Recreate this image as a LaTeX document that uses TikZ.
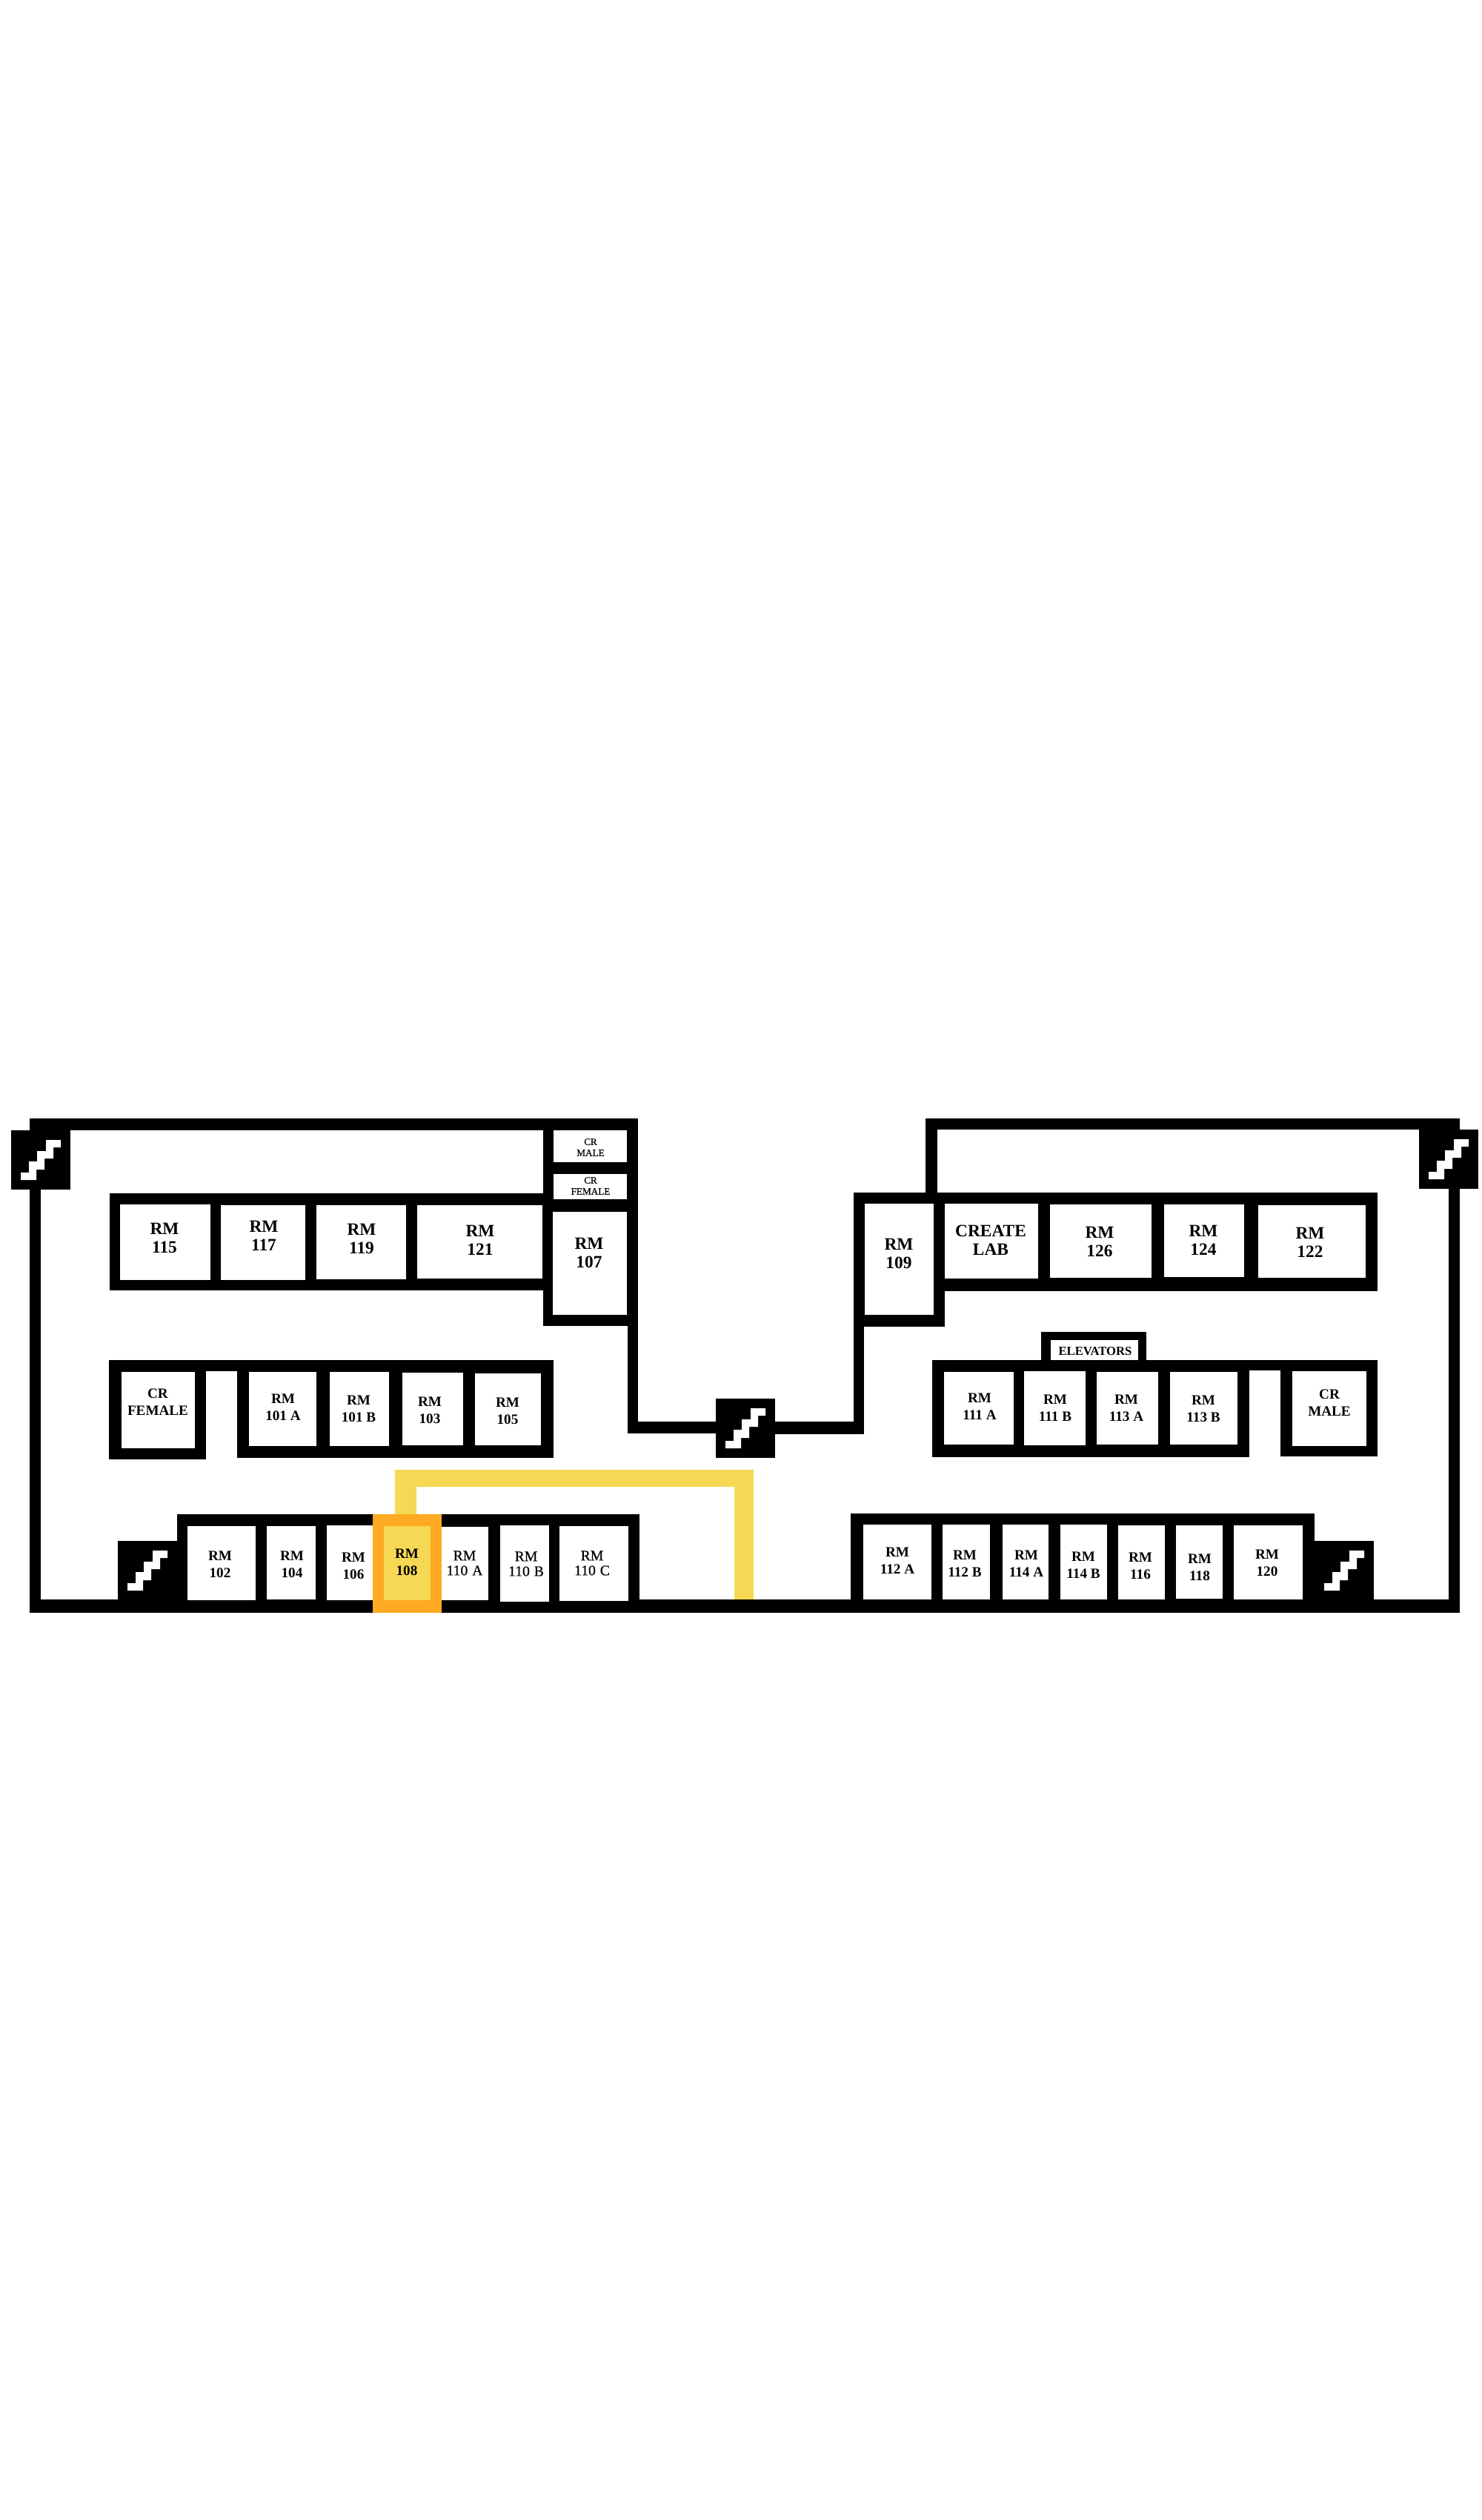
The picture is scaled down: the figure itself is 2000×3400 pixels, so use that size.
\documentclass[tikz,border=0pt]{standalone}
\usepackage{fontspec}
\setmainfont{Liberation Serif}
\newfontfamily\semibold[FakeBold=0.5]{Liberation Serif}
\definecolor{routeyellow}{RGB}{246,216,84}
\definecolor{routeorange}{RGB}{255,170,35}
\tikzset{
  wall/.style={fill=black},
  roomfill/.style={fill=white},
  big/.style={inner sep=0pt,align=center,text=black,font=\fontsize{6.65pt}{7.1pt}\selectfont\bfseries},
  mid/.style={inner sep=0pt,align=center,text=black,font=\fontsize{5.45pt}{6.55pt}\selectfont\bfseries},
  thin/.style={inner sep=0pt,align=center,text=black,font=\fontsize{5.6pt}{5.7pt}\selectfont\semibold},
  tiny/.style={inner sep=0pt,align=center,text=black,font=\fontsize{3.75pt}{4.25pt}\selectfont\semibold},
  lift/.style={inner sep=0pt,align=center,text=black,font=\fontsize{4.72pt}{5pt}\selectfont\bfseries}
}
% name, x1, y1, x2, y2, text x, text y, style, text
\newcommand{\roomat}[9]{%
  \fill[roomfill] (#2,#3) rectangle (#4,#5);
  \node[#8] (#1) at (#6,#7) {#9};
}
\newcommand{\wallbox}[4]{\fill[wall] (#1,#2) rectangle (#3,#4);}
\newcommand{\stairbox}[2]{%
  \begin{scope}[shift={(#1,#2)}]
    \fill[wall] (0,0) rectangle (80,80);
    \fill[white] (47,13) -- (67,13) -- (67,23) -- (57,23) -- (57,38) -- (45,38) -- (45,53) -- (34,53) -- (34,67) -- (13,67) -- (13,57) -- (24,57) -- (24,42) -- (35,42) -- (35,28) -- (47,28) -- cycle;
  \end{scope}
}
\begin{document}
\begin{tikzpicture}[x=0.01cm,y=-0.01cm]
\useasboundingbox (0,0) rectangle (2000,3400);
\fill[white] (0,0) rectangle (2000,3400);
% route
\fill[routeyellow] (533,2060) -- (533,1983) -- (1017,1983) -- (1017,2159) -- (991,2159) -- (991,2006) -- (562,2006) -- (562,2060) -- cycle;
% walls
\wallbox{40}{1509}{861}{1525}
\wallbox{40}{1509}{55}{2176}
\wallbox{40}{2158}{1970}{2176}
\wallbox{148}{1610}{733}{1741}
\wallbox{733}{1525}{861}{1789}
\wallbox{847}{1509}{861}{1934}
\wallbox{847}{1918}{966}{1934}
\wallbox{1046}{1918}{1166}{1935}
\wallbox{1152}{1609}{1275}{1790}
\wallbox{1152}{1609}{1166}{1935}
\wallbox{1260}{1609}{1859}{1742}
\wallbox{1249}{1509}{1265}{1609}
\wallbox{1249}{1509}{1970}{1524}
\wallbox{1955}{1509}{1970}{2176}
\wallbox{1405}{1797}{1547}{1835}
\wallbox{1258}{1835}{1686}{1966}
\wallbox{1686}{1835}{1728}{1849}
\wallbox{1728}{1835}{1859}{1965}
\wallbox{147}{1835}{278}{1969}
\wallbox{278}{1835}{320}{1850}
\wallbox{320}{1835}{747}{1967}
\wallbox{239}{2043}{863}{2176}
\wallbox{1148}{2042}{1774}{2176}
% stairs
\stairbox{15}{1525}
\stairbox{966}{1887}
\stairbox{1915}{1524}
\stairbox{159}{2079}
\stairbox{1774}{2079}
% top-left rooms
\roomat{r115}{162}{1625}{284}{1727}{222}{1670}{big}{RM\\115}
\roomat{r117}{298}{1626}{412}{1727}{356}{1667}{big}{RM\\117}
\roomat{r119}{427}{1626}{548}{1726}{488}{1671}{big}{RM\\119}
\roomat{r121}{563}{1626}{732}{1725}{648}{1673}{big}{RM\\121}
\roomat{r107}{746}{1635}{846}{1774}{795}{1690}{big}{RM\\107}
\roomat{crm1}{747}{1525}{846}{1568}{797}{1548}{tiny}{CR\\MALE}
\roomat{crf1}{747}{1584}{846}{1618}{797}{1600}{tiny}{CR\\FEMALE}
% top-right rooms
\roomat{r109}{1167}{1624}{1260}{1774}{1213}{1691}{big}{RM\\109}
\roomat{lab}{1275}{1624}{1401}{1725}{1337}{1673}{big}{CREATE\\LAB}
\roomat{r126}{1417}{1625}{1554}{1724}{1484}{1675}{big}{RM\\126}
\roomat{r124}{1571}{1625}{1679}{1723}{1624}{1673}{big}{RM\\124}
\roomat{r122}{1698}{1626}{1843}{1724}{1768}{1676}{big}{RM\\122}
% middle-left rooms
\roomat{crf2}{164}{1851}{263}{1954}{213}{1892}{mid}{CR\\FEMALE}
\roomat{r101a}{336}{1851}{427}{1951}{382}{1899}{mid}{RM\\101 A}
\roomat{r101b}{445}{1851}{525}{1951}{484}{1901}{mid}{RM\\101 B}
\roomat{r103}{543}{1852}{625}{1950}{580}{1903}{mid}{RM\\103}
\roomat{r105}{641}{1853}{730}{1950}{685}{1904}{mid}{RM\\105}
% middle-right rooms
\roomat{elev}{1418}{1808}{1536}{1835}{1478}{1823}{lift}{ELEVATORS}
\roomat{r111a}{1274}{1851}{1368}{1949}{1322}{1898}{mid}{RM\\111 A}
\roomat{r111b}{1382}{1850}{1465}{1950}{1424}{1900}{mid}{RM\\111 B}
\roomat{r113a}{1480}{1851}{1563}{1949}{1520}{1900}{mid}{RM\\113 A}
\roomat{r113b}{1579}{1851}{1670}{1949}{1624}{1901}{mid}{RM\\113 B}
\roomat{crm2}{1744}{1850}{1844}{1951}{1794}{1893}{mid}{CR\\MALE}
% bottom-left rooms
\roomat{r102}{253}{2059}{345}{2159}{297}{2111}{mid}{RM\\102}
\roomat{r104}{360}{2059}{426}{2158}{394}{2111}{mid}{RM\\104}
\roomat{r106}{441}{2058}{503}{2159}{477}{2113}{mid}{RM\\106}
\roomat{r110a}{596}{2060}{659}{2159}{627}{2109}{thin}{RM\\110\hspace{.3em}A}
\roomat{r110b}{675}{2058}{741}{2161}{710}{2110}{thin}{RM\\110\hspace{.3em}B}
\roomat{r110c}{755}{2059}{848}{2160}{799}{2109}{thin}{RM\\110\hspace{.3em}C}
% highlighted room
\fill[routeorange] (503,2043) rectangle (596,2176);
\fill[routeyellow] (518,2059) rectangle (581,2159);
\node[mid] (r108) at (549,2108) {RM\\108};
% bottom-right rooms
\roomat{r112a}{1165}{2057}{1257}{2158}{1211}{2106}{mid}{RM\\112 A}
\roomat{r112b}{1272}{2057}{1336}{2158}{1302}{2110}{mid}{RM\\112 B}
\roomat{r114a}{1353}{2057}{1415}{2158}{1385}{2110}{mid}{RM\\114 A}
\roomat{r114b}{1431}{2057}{1494}{2158}{1462}{2112}{mid}{RM\\114 B}
\roomat{r116}{1509}{2058}{1572}{2158}{1539}{2113}{mid}{RM\\116}
\roomat{r118}{1587}{2058}{1650}{2157}{1619}{2115}{mid}{RM\\118}
\roomat{r120}{1665}{2058}{1758}{2158}{1710}{2109}{mid}{RM\\120}
\end{tikzpicture}
\end{document}
